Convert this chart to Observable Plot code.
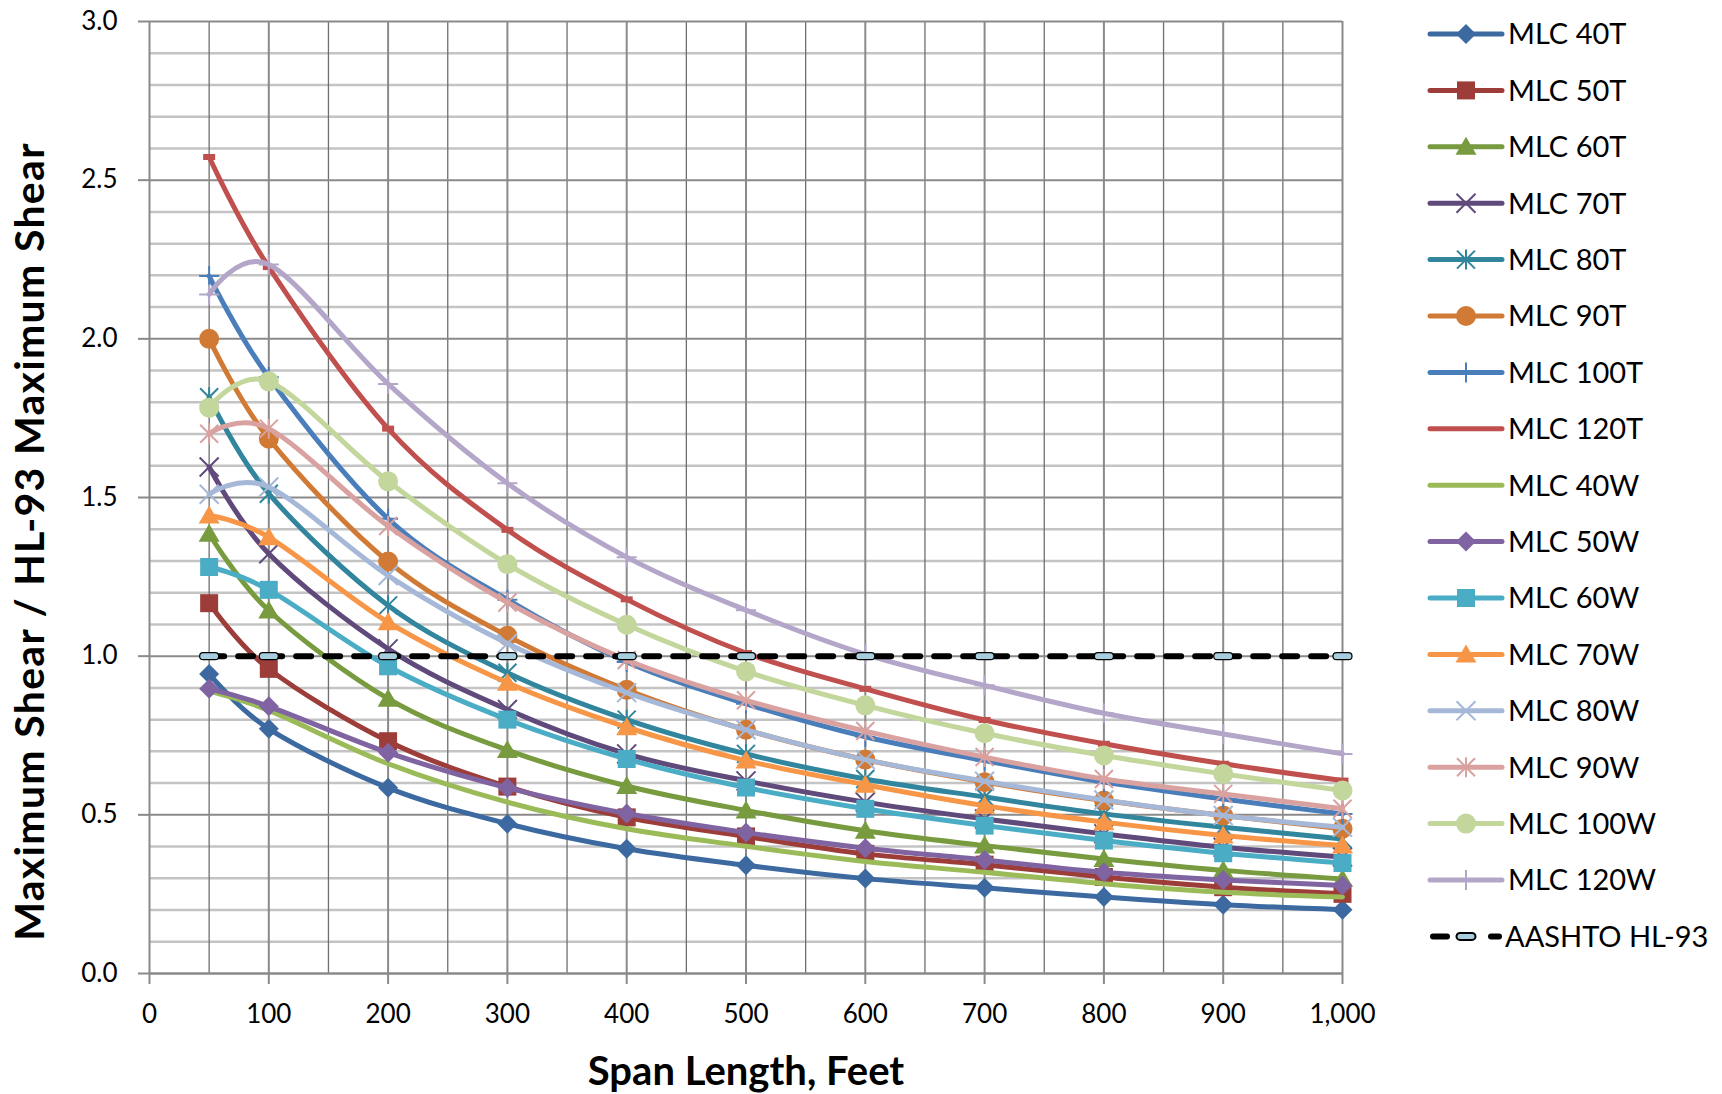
<!DOCTYPE html>
<html>
<head>
<meta charset="utf-8">
<script src="https://cdn.jsdelivr.net/npm/d3@7"></script>
<script src="https://cdn.jsdelivr.net/npm/@observablehq/plot@0.6"></script>
<style>
  html, body { margin: 0; padding: 0; background: #fff; }
  #wrap { position: relative; width: 1722px; height: 1094px; font-family: Lato, sans-serif; }
  #chart { position: absolute; left: 0; top: 0; }
  #legend { position: absolute; left: 1400px; top: 0; }
</style>
</head>
<body>
<div id="wrap"><div id="chart"></div><svg id="legend" width="322" height="1094"></svg></div>
<script>
// ---- data ----
const spans = [50, 100, 200, 300, 400, 500, 600, 700, 800, 900, 1000];
const mlc40T  = [0.944, 0.771, 0.585, 0.472, 0.393, 0.341, 0.299, 0.270, 0.241, 0.217, 0.201];
const mlc50T  = [1.167, 0.960, 0.732, 0.589, 0.492, 0.432, 0.377, 0.343, 0.304, 0.272, 0.251];
const mlc60T  = [1.386, 1.144, 0.866, 0.704, 0.591, 0.514, 0.450, 0.403, 0.361, 0.325, 0.298];
const mlc70T  = [1.596, 1.323, 1.023, 0.832, 0.692, 0.607, 0.540, 0.487, 0.440, 0.398, 0.367];
const mlc80T  = [1.816, 1.512, 1.160, 0.948, 0.800, 0.692, 0.613, 0.556, 0.503, 0.461, 0.424];
const mlc90T  = [2.000, 1.685, 1.298, 1.064, 0.894, 0.768, 0.674, 0.603, 0.545, 0.498, 0.456];
const mlc100T = [2.198, 1.879, 1.433, 1.178, 0.982, 0.850, 0.746, 0.671, 0.603, 0.550, 0.503];
const mlc120T = [2.573, 2.226, 1.717, 1.398, 1.179, 1.010, 0.897, 0.799, 0.724, 0.661, 0.608];
const mlc40W  = [0.890, 0.829, 0.661, 0.540, 0.456, 0.401, 0.353, 0.319, 0.283, 0.256, 0.241];
const mlc50W  = [0.897, 0.842, 0.696, 0.585, 0.504, 0.444, 0.395, 0.358, 0.319, 0.295, 0.277];
const mlc60W  = [1.281, 1.209, 0.968, 0.800, 0.676, 0.586, 0.519, 0.466, 0.419, 0.379, 0.348];
const mlc70W  = [1.443, 1.375, 1.107, 0.916, 0.776, 0.671, 0.595, 0.529, 0.477, 0.435, 0.403];
const mlc80W  = [1.510, 1.533, 1.254, 1.040, 0.885, 0.768, 0.674, 0.606, 0.547, 0.498, 0.461];
const mlc90W  = [1.701, 1.717, 1.410, 1.169, 0.988, 0.861, 0.764, 0.682, 0.613, 0.566, 0.519];
const mlc100W = [1.783, 1.866, 1.551, 1.290, 1.099, 0.952, 0.845, 0.757, 0.687, 0.629, 0.577];
const mlc120W = [2.140, 2.234, 1.858, 1.545, 1.312, 1.145, 1.006, 0.908, 0.820, 0.755, 0.692];
const aashtoHL93 = [1, 1, 1, 1, 1, 1, 1, 1, 1, 1, 1];

const seriesNames = ["MLC 40T","MLC 50T","MLC 60T","MLC 70T","MLC 80T","MLC 90T","MLC 100T","MLC 120T",
  "MLC 40W","MLC 50W","MLC 60W","MLC 70W","MLC 80W","MLC 90W","MLC 100W","MLC 120W"];
const seriesValues = [mlc40T, mlc50T, mlc60T, mlc70T, mlc80T, mlc90T, mlc100T, mlc120T,
  mlc40W, mlc50W, mlc60W, mlc70W, mlc80W, mlc90W, mlc100W, mlc120W];
const refName = "AASHTO HL-93";

const xTicks = [0, 100, 200, 300, 400, 500, 600, 700, 800, 900, 1000];
const yTicks = [0, 0.5, 1.0, 1.5, 2.0, 2.5, 3.0];
const xLabel = "Span Length, Feet";
const yLabel = "Maximum Shear / HL-93 Maximum Shear";

// ---- styles ----
const colors = ["#3C6AA0","#9C3D3A","#779B3E","#604A7B","#31859C","#D07A35","#4A7EBB","#C0504D",
  "#9BBB59","#8064A2","#4BACC6","#F79646","#A6B8D8","#D9A19F","#C3D69B","#B3A6C8"];
const markers = ["diamond","square","triangle","x","asterisk","circle","plus","dash",
  null,"diamond","square","triangle","x","asterisk","circle","plus"];

const sym = {
  diamond: {draw(c){ c.moveTo(0,-10); c.lineTo(10,0); c.lineTo(0,10); c.lineTo(-10,0); c.closePath(); }},
  square: {draw(c){ c.rect(-9,-9,18,18); }},
  triangle: {draw(c){ c.moveTo(0,-10); c.lineTo(10.5,8); c.lineTo(-10.5,8); c.closePath(); }},
  circle: {draw(c){ c.moveTo(10,0); c.arc(0,0,10,0,2*Math.PI); }},
  x: {draw(c){ c.moveTo(-9.5,-9.5); c.lineTo(9.5,9.5); c.moveTo(-9.5,9.5); c.lineTo(9.5,-9.5); }},
  asterisk: {draw(c){ c.moveTo(-9,-9); c.lineTo(9,9); c.moveTo(-9,9); c.lineTo(9,-9); c.moveTo(0,-10); c.lineTo(0,10); }},
  plus: {draw(c){ c.moveTo(0,-10); c.lineTo(0,10); c.moveTo(-10,0); c.lineTo(10,0); }},
  dash: {draw(c){ c.rect(-6,-3,12,6); }},
  pill: {draw(c){ c.moveTo(-6,-3.5); c.lineTo(6,-3.5); c.arc(6,0,3.5,-Math.PI/2,Math.PI/2); c.lineTo(-6,3.5); c.arc(-6,0,3.5,Math.PI/2,3*Math.PI/2); c.closePath(); }}
};
const filled = new Set(["diamond","square","triangle","circle","dash"]);

const rows = seriesNames.flatMap((name, i) => spans.map((x, j) => ({series: name, x, y: seriesValues[i][j]})));
const refRows = spans.map((x, j) => ({series: refName, x, y: aashtoHL93[j]}));

const gridMinorY = d3.range(0.1, 3.0001, 0.1).filter(v => Math.abs(v*2 - Math.round(v*2)) > 1e-6);
const gridMajorY = yTicks.filter(v => v > 0);
const gridX50 = d3.range(50, 1000, 100);
const gridX100 = xTicks.filter(v => v > 0);

const marks = [
  Plot.ruleY(gridMinorY, {stroke: "#c4c4c4", strokeWidth: 2.5}),
  Plot.ruleX(gridX50, {stroke: "#6f6f6f", strokeWidth: 1.3}),
  Plot.ruleX(gridX100, {stroke: "#8a8a8a", strokeWidth: 2}),
  Plot.ruleY(gridMajorY, {stroke: "#8a8a8a", strokeWidth: 2}),
  Plot.ruleX([0], {stroke: "#8a8a8a", strokeWidth: 2}),
  Plot.ruleY([0], {stroke: "#8a8a8a", strokeWidth: 2.5}),
  Plot.axisY({ticks: yTicks, tickFormat: d => d.toFixed(1), tickSize: 11, tickPadding: 21,
    fontSize: 26, label: null, stroke: "#8a8a8a", strokeWidth: 2, fill: "black"}),
  Plot.axisX({ticks: xTicks, tickFormat: d3.format(","), tickSize: 11, tickPadding: 20,
    fontSize: 26, label: null, stroke: "#8a8a8a", strokeWidth: 2, fill: "black"}),
  Plot.text([yLabel], {frameAnchor: "left", textAnchor: "middle", rotate: -90, dx: -119, dy: 44,
    fontSize: 41, fontWeight: "bold", fill: "black"}),
  Plot.text([xLabel], {frameAnchor: "bottom", textAnchor: "middle", dy: 111,
    fontSize: 40, fontWeight: "bold", fill: "black"})
];

seriesNames.forEach((name, i) => {
  const data = rows.filter(d => d.series === name);
  marks.push(Plot.line(data, {x: "x", y: "y", stroke: colors[i], strokeWidth: 5, curve: "cardinal",
    strokeLinecap: "round", strokeLinejoin: "round"}));
  const m = markers[i];
  if (m) {
    const f = filled.has(m);
    marks.push(Plot.dot(data, {x: "x", y: "y", symbol: sym[m], r: 10,
      fill: f ? colors[i] : "none", stroke: f ? "none" : colors[i], strokeWidth: 2}));
  }
});
marks.push(Plot.line(refRows, {x: "x", y: "y", stroke: "black", strokeWidth: 6, strokeDasharray: "15,14",
  strokeLinecap: "round"}));
marks.push(Plot.dot(refRows, {x: "x", y: "y", symbol: sym.pill, r: 10, fill: "#a8cede", stroke: "black", strokeWidth: 1.2}));

const chart = Plot.plot({
  width: 1400, height: 1094,
  marginLeft: 149, marginRight: 58, marginTop: 21, marginBottom: 121,
  x: {domain: [0, 1000], axis: null},
  y: {domain: [0, 3], axis: null},
  style: {fontFamily: "Lato, sans-serif", fontSize: "26px", color: "black", background: "white"},
  marks
});
d3.select(chart).selectAll("text").filter(function() { return this.textContent === yLabel; })
  .attr("letter-spacing", 1.3);
document.getElementById("chart").appendChild(chart);

// ---- legend ----
const lg = d3.select("#legend").style("font-family", "Lato, sans-serif");
const rowY = i => 34 + i * 56.4;
seriesNames.forEach((name, i) => {
  const g = lg.append("g").attr("transform", `translate(0,${rowY(i)})`);
  g.append("line").attr("x1", 30).attr("x2", 102).attr("y1", 0).attr("y2", 0)
    .attr("stroke", colors[i]).attr("stroke-width", 5).attr("stroke-linecap", "round");
  const m = markers[i];
  if (m && m !== "dash") {
    const f = filled.has(m);
    g.append("path").attr("transform", "translate(66,0)")
      .attr("d", () => { const p = d3.path(); sym[m].draw(p); return p.toString(); })
      .attr("fill", f ? colors[i] : "none").attr("stroke", f ? "none" : colors[i]).attr("stroke-width", 2);
  }
  g.append("text").attr("x", 108).attr("y", 0).attr("dy", "0.36em").attr("font-size", 29).attr("fill", "black").text(name);
});
{
  const i = seriesNames.length;
  const g = lg.append("g").attr("transform", `translate(0,${rowY(i)})`);
  g.append("line").attr("x1", 33).attr("x2", 47).attr("y1", 0).attr("y2", 0)
    .attr("stroke", "black").attr("stroke-width", 6).attr("stroke-linecap", "round");
  g.append("line").attr("x1", 91).attr("x2", 99).attr("y1", 0).attr("y2", 0)
    .attr("stroke", "black").attr("stroke-width", 6).attr("stroke-linecap", "round");
  g.append("path").attr("transform", "translate(66,0)")
    .attr("d", () => { const p = d3.path(); sym.pill.draw(p); return p.toString(); })
    .attr("fill", "#a8cede").attr("stroke", "black").attr("stroke-width", 2);
  g.append("text").attr("x", 105).attr("y", 0).attr("dy", "0.36em").attr("font-size", 29).attr("fill", "black").text(refName);
}
</script>
</body>
</html>
